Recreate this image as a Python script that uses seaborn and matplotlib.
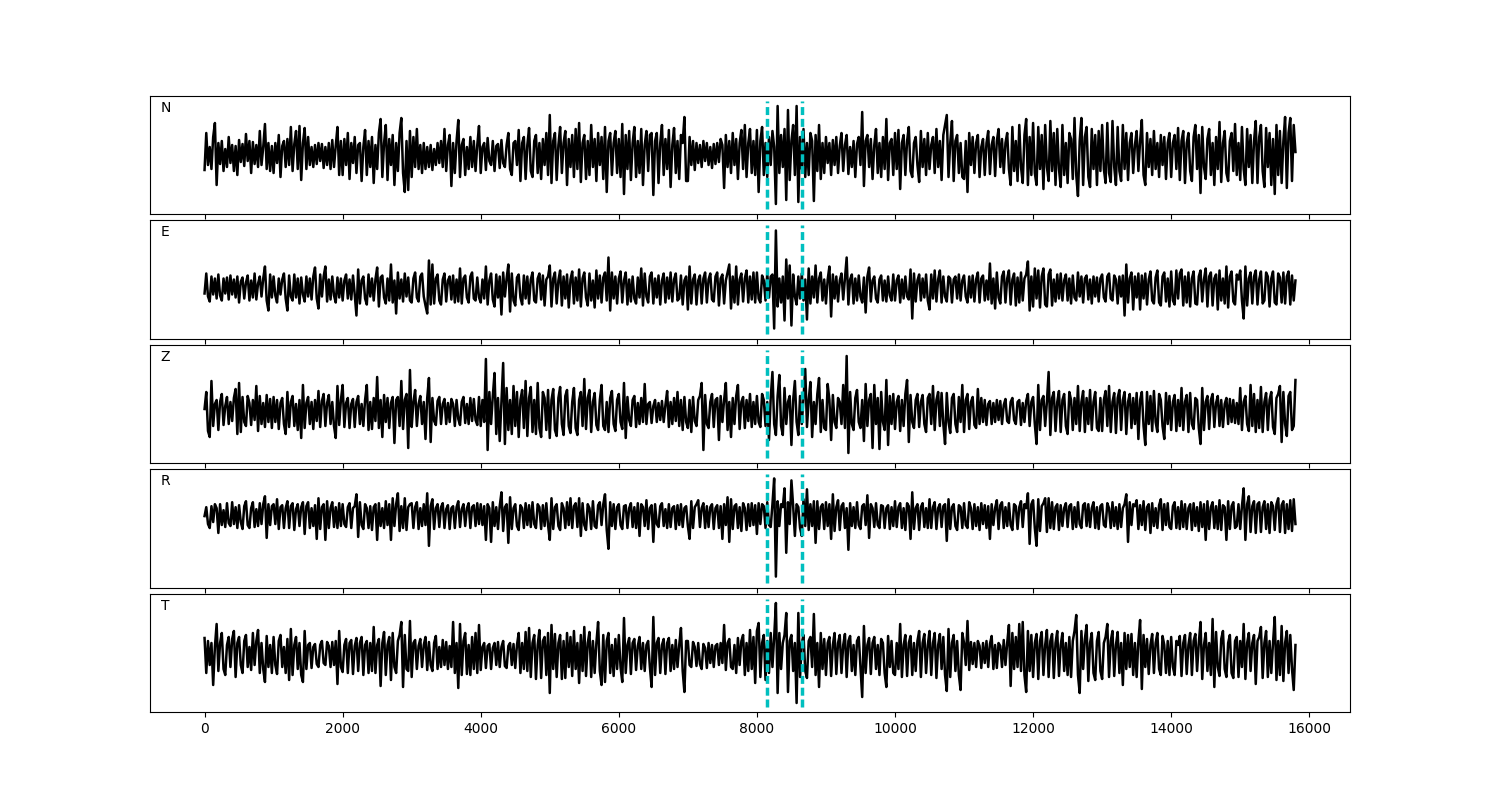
import numpy as np
import pandas as pd
import matplotlib
matplotlib.use("Agg")
import matplotlib.pyplot as plt
import seaborn as sns

# ---- data (amplitudes, one value every 25 samples) ----
sample_step = 25
channels = ["N", "E", "Z", "R", "T"]
picks = [8145, 8652]
xticks = [0, 2000, 4000, 6000, 8000, 10000, 12000, 14000, 16000]

n_trace = (
    [-15, 22, -10, 8, -14, 18, 32, -30, 12, -9, 14, -16, 6, -12, 18, -8, 10, -16, 9, -20, 15, -7, 11, -11, 21, -6, 14, -18, 13, -9, 10, -12, 24, -10, 8, 31, -14, 12, -16, 9]
    + [-18, 12, -8, 20, -22, 9, 14, -12, 16, -10, 28, -16, 11, 24, -14, 29, -25, 12, 27, -14, 18, -10, 8, -12, 10, -9, 12, -6, 11, -13, 8, -10, 12, -14, 15, -12, 9, 28, -20, 14]
    + [-20, 16, -10, 22, -24, 12, -8, 18, -18, 10, 12, -26, 8, 25, -20, 14, -12, 18, -28, 10, -14, 22, 36, -22, 12, 30, -25, 16, -10, 20, -30, 12, -16, 22, 37, -18, -37, 14, -35, 24]
    + [-22, 18, -12, 26, -14, 10, -18, 12, -14, 8, -12, 10, -15, 6, -10, 12, -8, 14, -12, 26, -16, 10, 20, -31, 12, -18, 14, 35, -22, 10, 16, -20, 8, -14, 18, -12, 14, -16, 10, 29]
    + [-18, 8, 12, -15, 17, -6, -10, 14, -16, 9, 11, -13, 15, -8, -12, 10, 22, -14, -20, 12, 14, -10, 25, -26, 12, 18, -24, 10, 27, -16, -22, 14, 20, -18, 12, -24, 16, -10, 22, -20]
    + [40, -28, 14, 22, -25, 10, 28, -18, 12, 24, -30, 16, -12, 20, -22, 26, -14, 32, -27, 12, 20, -24, 14, -20, 30, -12, 16, -26, 22, -10, 18, -24, 28, -37, 14, 22, -20, 12, 24, -18]
    + [16, -22, 31, -39, 20, -14, 24, -25, 12, 28, -22, 14, -18, 26, -30, 10, 24, -16, 20, 22, -40, 14, 22, -28, 12, 30, -20, 16, -14, 25, -32, 10, 27, -18, 14, -24, 20, 12, 38, -26]
    + [-26, 18, -10, 14, -15, 12, -8, 10, -12, 14, -6, 12, -10, 8, -13, 11, -9, 12, -7, 16, 10, -33, 20, -12, 14, -18, 22, -10, 16, -24, 12, 25, -14, 30, -22, 12, 26, -18, 14, -20]
    + [25, -37, 14, 28, -20, 12, -22, 18, -10, 24, 8, -49, 49, -18, 20, -12, 26, -45, 45, -25, 14, 30, -20, 49, -47, 18, -14, 26, -22, 12, -20, 22, 14, -46, 20, -16, 30, -24, 12, -18]
    + [18, -8, 12, -20, 15, -10, 18, -18, 9, 22, -16, 10, 20, -19, 8, -12, 14, -22, 11, 18, -10, 43, -31, 14, 20, -12, 16, -24, 10, 26, -18, 12, -22, 18, -14, 36, -25, 12, 16, -20]
    + [22, -14, 25, -34, 12, 20, -20, 14, 28, -16, -22, 12, 18, -10, -27, 24, -12, 16, -20, 22, -14, 10, 18, -18, 26, -12, 14, -25, 20, 30, 40, -22, 12, 34, -26, 14, 20, -18, 12, -22]
    + [-24, 14, -37, 22, -10, 18, -18, 12, 20, -22, 8, 16, -20, 12, 24, -19, 10, 18, -21, 14, 26, -12, 16, -18, 12, 22, -14, -30, 28, -16, 14, -26, 30, -12, -28, 20, 36, -30, 18, -20]
    + [32, -18, -30, 28, -14, 20, -34, 30, -12, -26, 34, -16, 22, -30, 26, -14, -32, 30, -20, 12, -28, 22, 16, -24, 37, -20, -41, 14, 37, -30, 18, 28, -22, -32, 26, -14, 20, -30, 24, -16]
    + [30, -14, -28, 32, -18, -27, 34, -12, -30, 28, -16, -26, 30, -14, 22, -25, 12, 22, -18, 10, 24, -16, 14, 35, -20, -30, 22, -12, 16, -20, 24, -14, 12, -22, 20, -10, 18, -24, 12, 22]
    + [-22, 12, 20, -14, 27, -25, 14, 24, -28, 12, 22, -16, -26, 18, 30, -14, 20, -38, 28, -12, -24, 16, 26, -20, 12, -30, 18, -14, 33, -27, 12, 24, -18, -26, 14, 22, -16, 31, -20, 12]
    + [-25, 28, -14, -30, 26, -12, 20, -28, 14, 34, -28, 18, 30, -16, -32, 27, -12, 22, -30, 16, -39, 30, -20, 24, -28, 14, 38, -33, 22, 37, -26, 30, 3]
)

e_trace = (
    [-5, 15, -8, -13, 12, -6, 10, -10, 14, -7, -12, 10, -5, 11, -11, 13, -6, 9, -9, 12, -14, 7, 11, -10, 6, 13, -12, 8, -9, 15, -11, 5, 12, -8, 10, 22, -12, -22, 14, -9]
    + [12, -7, -14, 10, -6, 9, 15, -10, -22, 13, -8, -12, 14, -9, 10, -15, 11, -6, -13, 12, -8, 10, -11, 12, 21, -10, -20, 14, -8, 12, 22, -13, 9, -11, 12, -7, -14, 11, -9, 10]
    + [-12, 8, 14, -10, 9, -11, 13, -6, -27, 19, -15, 8, 12, -10, -16, 14, -8, 10, -12, 9, 21, -18, 11, 13, -9, -15, 10, -12, 24, -14, 8, -25, 16, -10, 9, -13, 15, -8, 11, -12]
    + [-14, 10, 16, -9, -13, 12, 15, -8, -17, -25, 28, -16, 24, -15, 10, 14, -12, -16, 9, 15, -13, 8, 12, -11, 13, -14, 9, -13, 20, -15, 10, 13, -9, -14, 12, 16, -10, -12, 11, -9]
    + [-14, 9, -10, 22, -16, 8, 15, -11, -18, 14, -9, 12, -26, 16, -8, 10, 24, -23, 15, -12, -17, 11, 14, -9, -16, 13, -10, 12, -15, 9, 16, -12, -14, 10, 15, -11, 13, -17, 9, 12]
    + [23, -18, 10, 16, -15, 8, 18, -17, 12, -10, 14, -19, 9, 17, -15, 11, -12, 19, -18, 10, 16, -9, -17, 15, -12, 8, -19, 18, -10, 13, -14, 11, 16, -12, 31, -22, 16, -10, 12, -15]
    + [10, 17, -14, 8, 16, -16, 9, -13, 12, -10, -15, 11, -9, 20, -17, 15, -8, -14, 12, 16, -15, 10, -9, 13, -16, 8, 15, -14, 11, -10, 16, -13, 9, 15, -12, -10, 13, -16, 8, 12]
    + [-21, 22, -15, 9, 14, -16, 8, 13, -15, 10, 16, -14, 9, 15, -11, -13, 12, 16, -17, 10, 14, -15, 8, 16, 24, -20, 12, -14, 22, -16, 9, 15, -13, 10, 18, -14, 12, -11, 16, -14]
    + [16, -10, -14, 13, 8, -12, 15, -9, 12, 14, -40, 58, -18, 10, -14, 12, -32, 29, -10, 23, -37, 14, -8, -16, 12, -10, 15, -12, 9, -31, 20, -15, 12, -9, 23, -14, 10, 16, -12, 9]
    + [-15, 9, 22, -28, 14, -10, 12, -13, 8, 15, -11, 10, 31, -16, 9, 14, -15, 10, -12, 13, -8, -14, 11, -24, 12, 21, -13, 8, 12, -10, -14, 9, 13, -12, 8, -13, 12, -7, -12, 14]
    + [-12, 8, 13, -14, 9, -10, 12, -8, -11, 19, -30, 15, -13, 8, 14, -12, 10, -9, 14, -12, -21, 14, -10, 18, -13, 9, 18, -14, 12, -8, -13, 12, 10, -14, 9, 12, -10, 14, -12, 8]
    + [13, -8, -14, 12, -9, 13, -13, 9, 16, -14, 10, 13, -12, 8, -11, 25, -15, 10, -20, 16, -9, -15, 12, 17, -14, 10, 18, -16, 9, 15, -17, 11, -14, 16, -12, 10, 14, 27, -22, 12]
    + [-18, 20, -10, 18, -19, 12, 20, -16, -18, 14, 19, -17, 9, -13, 14, -10, 15, -12, 8, 14, -12, 10, -15, 13, -9, -12, 16, -8, 12, -14, 10, 13, -11, 9, -15, 12, -8, 11, -13, 10]
    + [14, -9, -13, 12, 15, -10, -12, 13, 9, -15, 12, -8, 13, -27, 24, -14, 10, 16, -21, 12, -9, 15, -21, 13, -10, 15, -16, 9, 17, -12, -15, 11, 18, -14, -17, 12, 16, -13, 10, -18]
    + [17, -12, -16, 18, -10, 15, 19, -17, 12, -14, 16, -18, 10, 17, -15, -16, 12, 18, -13, 9, 20, -18, 12, 16, -17, 10, 14, -21, 18, -12, 10, -15, 22, -19, 12, 17, -13, -16, 14, 9]
    + [18, -12, -30, 22, -17, 10, 16, -15, 12, 18, -16, 9, 17, -15, -12, 16, 12, -18, 10, 17, -14, -16, 15, 11, -14, 16, -15, 12, 17, -16, 13, -12, 8]
)

z_trace = (
    [3, 20, -19, -25, 31, -14, 8, 12, -18, 10, 18, -13, 6, 15, -12, 10, -9, 14, 23, -22, 29, -20, 15, -10, -14, 16, 9, -13, 12, -8, 26, -19, 16, -12, 9, -15, 17, -10, 13, -16]
    + [15, -10, 12, -17, 9, 14, -12, -22, 20, -15, 10, 16, -14, 8, -18, 12, -26, 27, -16, 9, 15, -12, 10, -17, 12, -9, 21, -15, 11, 18, -14, 9, 17, -12, 10, -14, -26, 26, -13, 12]
    + [27, -15, 9, 14, -16, 8, 13, -15, 10, 16, -12, 8, -14, 12, 27, -18, 10, -17, 14, -9, 35, -16, 12, -25, 17, -10, 14, -16, 9, 15, -31, 12, 15, -14, 31, -17, 12, 18, -36, 42]
    + [-15, 10, 22, -14, 8, 16, -12, 10, -27, 14, 34, -30, 14, -9, -13, 11, 15, -12, 8, 13, -12, 9, -10, 13, 8, -14, 12, -7, -13, 10, 15, -11, 8, -12, 14, -9, 13, -8, -13, 15]
    + [-14, 12, -10, 53, -38, 20, -12, 16, 39, -22, 14, -29, 10, 49, -32, 24, -18, 12, -22, 26, -14, 20, -25, 12, 22, -16, 31, -24, 14, 25, -20, 12, -22, 29, -16, -25, 20, 14, -18, 22]
    + [-26, 12, 23, -18, -24, 14, 25, -12, -23, 16, 22, -14, -21, 10, 24, -16, -23, 12, 20, -14, 33, -17, 14, 22, -20, 10, 19, -13, -18, 12, 27, -14, -18, 10, -20, 14, 21, -12, -19, 12]
    + [18, -10, -17, 29, -26, 15, -8, -14, 12, 16, -15, 9, -12, 14, -10, 28, -12, 8, 10, -11, 6, 12, -10, 9, -8, 11, -10, 7, 21, -15, 10, -12, 14, -9, 20, -14, 12, -18, 15, -10]
    + [-16, 12, -20, 15, -9, -14, 12, 16, 29, -38, 17, -12, -16, 10, 18, -15, 12, 14, -28, 16, -10, 12, 29, -18, 10, -25, 14, -12, 16, 27, -17, 10, 15, -16, 12, -9, 18, -15, 10, -12]
    + [16, -10, -15, 18, 12, -14, 10, -28, 14, 40, -12, -23, 16, 37, -14, -23, 24, -12, 10, 16, -33, 12, 31, -10, -23, 16, -12, 14, 43, -15, 12, 30, -25, 10, -12, 18, 34, -20, 12, -16]
    + [-18, 28, 12, -28, 17, -10, -16, 14, 10, -12, 27, -16, 56, -41, 20, -12, -18, 14, 22, -10, -16, 12, -29, 28, -14, 12, 18, -36, 27, -12, 14, -37, 20, -10, -18, 32, -33, 16, -12, 18]
    + [-17, 10, 16, -19, 12, -14, 18, 32, -30, 17, -10, -16, 12, 18, -15, 10, 17, -12, -20, 14, 18, -12, 26, -18, 12, 20, -14, 19, -12, -32, 19, -10, -21, 14, 18, -12, -20, 15, -10, 27]
    + [-20, 12, 18, -17, 10, 15, -13, -16, 23, -12, 14, -10, 12, -13, 8, 11, -12, 9, -10, 12, -8, 11, -12, 7, 13, -9, -11, 10, 14, -8, -12, 10, 12, -13, 9, -10, 11, 18, -14, 10]
    + [15, -12, -32, 27, -18, 12, 16, -14, 10, 40, -23, 14, 20, -19, 10, 21, -20, 12, 18, -14, -22, 20, 12, -18, 14, -12, 26, -19, 10, 21, -20, 14, -12, 22, -18, 10, 20, -16, -19, 14]
    + [-19, 12, 21, -14, 26, -20, 10, 19, -21, 14, 22, -18, 12, 20, -22, 10, 18, -16, 14, -12, 19, -27, 12, 20, -14, -33, 20, -12, 16, -19, 21, -10, -20, 18, 12, -14, -27, 19, -12, 16]
    + [-18, 10, 17, -19, 12, -14, 24, -18, 10, 17, -20, 19, -12, -17, 14, 12, -16, -32, 24, -18, 10, 16, -17, 12, 18, -15, 9, 16, -14, 12, -15, 8, 14, -12, 13, -10, 12, -11, 9, -12]
    + [24, -18, 10, 16, -12, -19, 27, -14, 18, -20, 12, -16, 25, -20, 10, 19, -18, 12, 20, -15, -22, 14, 18, 26, -30, 20, -12, -24, 16, 20, -18, -14, 32]
)

r_trace = (
    [0, 9, -8, -12, 10, -6, 12, 8, -17, 12, -9, 6, -11, 13, -7, -10, 14, -8, 9, -12, 11, -6, -13, 10, 15, -9, -12, 8, 14, -11, 7, -10, 13, -8, 12, 20, -22, 12, -9, 10]
    + [12, -8, 17, -13, 9, 11, -12, 8, 15, -12, 10, 13, -14, 7, 12, -10, 9, 14, -18, 10, 14, -12, 8, -10, 11, -23, 18, -13, 9, 12, -24, 15, -12, 8, 14, -11, 9, -12, 13, -10]
    + [12, -8, -11, 9, 13, -12, 8, 10, 22, -21, 14, -9, -13, 12, 8, -12, 10, -14, 9, 12, -24, 13, -10, 8, -12, 15, -9, 12, -24, 18, -10, 12, 23, -15, 10, -12, 18, -14, 9, 12]
    + [13, -12, 9, 14, -13, 8, -10, 12, -9, 23, -30, 10, 17, -13, 8, 12, -11, 9, 13, -12, 7, 11, -13, 8, 10, -12, 9, 15, -11, 7, 12, -10, 8, 13, -12, 9, 11, -10, 13, -8]
    + [12, -9, 10, -24, 12, 8, -26, 14, -10, 9, -13, 10, 24, -15, 9, 12, -27, 19, -13, 8, 12, -10, -14, 11, 8, -12, 13, -9, 11, -11, 14, -8, -12, 12, 9, -13, 11, -10, 13, -9]
    + [-24, 18, -13, 9, 12, -10, -14, 13, 8, -12, 14, -9, 18, -12, 10, 13, -11, 18, -20, 13, -9, -14, 12, 8, -13, 15, -10, -12, 11, 14, -9, 12, 22, -14, -33, 14, -10, 12, -13, 9]
    + [12, -9, -13, 10, 11, -12, 8, 13, -11, 9, -12, 13, -20, 12, 9, -10, 16, -13, 8, 11, -26, 12, -8, -11, 10, 13, -10, 7, -12, 12, -11, 8, 10, -13, 11, -9, 12, -11, 8, 10]
    + [-10, -23, 15, -12, 9, 12, 16, -11, 8, 13, -12, 10, -11, 9, 12, -13, 8, 11, -12, 10, -23, 12, -9, 19, -26, 17, -13, 10, 12, -12, 9, -15, 13, 8, -14, 12, -10, 13, -9, 11]
    + [-18, 13, -8, 12, 10, -12, 14, -9, -11, 12, 38, -61, 15, -10, 12, 9, 28, -37, 14, -8, 36, 10, -20, 12, 9, -12, -20, 17, -10, 27, -14, 12, -10, 15, -27, 15, -13, 9, 12, -13]
    + [14, -10, 12, -23, 22, -15, 9, 16, -14, 10, 13, -12, 8, -34, 13, -10, 9, -12, 14, -9, -13, 10, 12, -9, 21, -22, 12, 8, -11, 13, -9, -12, 11, 10, -12, 8, 11, -13, 9, -10]
    + [15, -11, 9, 13, -12, 8, -14, 13, 10, -23, 24, -13, 8, 12, -14, 9, 13, -11, 8, -12, 17, -12, 9, 14, -13, 8, 12, -11, 10, 12, -25, 17, -13, 9, 12, -10, -14, 11, 9, -12]
    + [13, -9, -12, 14, 8, -13, 12, -10, 9, -14, 13, -8, 11, -12, 10, -23, 12, -9, 8, 16, -13, 11, 14, -12, 9, -10, 13, -9, -14, 12, 10, -13, 9, 15, -11, 12, 8, 23, -28, 12]
    + [16, -12, -30, 17, -15, 10, 13, 18, -16, 18, -12, 14, -13, 9, 12, -14, 11, -10, 8, 13, -11, 10, 12, -13, 9, -11, 14, -8, -12, 11, 13, -10, 12, -11, 8, 14, -12, 9, -13, 10]
    + [12, -9, -11, 13, 8, -12, 14, -10, 9, -13, 12, -11, 8, 12, 22, -26, 14, -9, 12, 10, 16, -13, 11, -9, 15, -14, 9, 12, -17, 13, -10, 8, -12, 11, 17, -14, 12, -9, 13, -11]
    + [-13, 10, 14, -12, 9, -13, 15, -11, 12, -13, 8, 12, -14, 13, -10, 9, -15, 14, -11, 12, -24, 15, -13, 9, 14, -12, 10, -13, 16, -14, 11, 9, -24, 15, -13, 10, 14, -12, -10, 12]
    + [-13, 10, 28, -24, 12, 20, -16, 10, 15, -17, 12, 14, -16, 9, 15, -13, 12, -17, 14, 10, -14, 12, 18, -16, 11, 15, -17, 12, -13, 16, -15, 17, -8]
)

t_trace = (
    [17, -18, 14, -10, 12, -30, 8, 31, -16, 12, 22, -14, -20, 10, 18, -12, 16, 24, -22, 12, 18, -10, -18, 14, 20, -12, 8, -15, 22, -10, 14, 25, -18, 12, -14, -27, 19, -12, 10, -18]
    + [18, -10, -19, 14, 20, -12, 8, -18, 16, -25, 26, -20, 10, 18, -14, 12, -20, -27, 24, -14, 10, 12, -13, 8, 11, -9, -12, 10, 14, -8, -10, 13, 9, -12, 13, -10, 14, -29, 24, -12]
    + [-17, 10, 16, -18, 12, 15, -19, 9, 17, -16, 12, 18, -20, 10, 14, -18, 12, -16, 28, -18, 10, 16, -31, 12, 23, -20, 10, 18, -25, 22, -12, -18, 14, 20, 33, -32, 20, -14, -16, 34]
    + [-22, 12, 15, -14, 9, 16, -12, 10, 18, -15, 13, -10, -16, 12, 19, -14, 8, -12, 15, -10, 13, -14, 9, -12, 33, -18, 12, -33, 31, -20, 14, 22, -19, 10, -20, 18, -14, 22, -18, 30]
    + [-15, 8, 12, -13, 9, 11, -14, 7, 12, -10, 13, -12, 8, 14, -11, -13, 9, 12, -10, 11, -13, 10, 22, -18, 12, -14, 23, -16, 27, -22, 12, 20, -24, 10, 25, -23, 14, 18, -20, 22]
    + [-38, 30, -14, 21, -22, 12, 20, -24, 14, -23, 22, -12, 18, -21, 24, -14, 12, -28, 20, -16, 28, -21, 12, 23, -22, 14, -18, 12, 33, -16, -30, 20, -27, 14, 22, -18, 10, -21, 16, -14]
    + [20, -12, -27, 37, -18, 10, 17, -19, 12, 16, -15, 9, 18, -14, 12, -16, 10, 14, -12, -32, 38, -20, 12, 17, -18, 10, 16, -19, 12, 17, -16, 10, -14, 15, -12, 10, 27, -16, -37, 14]
    + [14, -10, -12, 13, 8, -11, 12, -9, -14, 11, 7, -13, 12, -8, 10, -12, 9, 11, -10, 12, -8, 30, -15, 12, 16, -12, -14, 10, -18, 17, -10, 14, 20, -20, 12, -16, 25, -14, 18, -28]
    + [24, 32, -22, 12, 20, -25, 14, -18, 22, -12, 18, 52, -38, 22, -14, 12, 20, 42, -37, 14, 20, -16, 12, -48, 42, -22, 12, 20, -16, -23, 14, 18, -12, 41, -20, 12, -32, 22, -14, 16]
    + [-20, 12, 18, -21, 10, 22, -19, 12, 20, -18, 10, 21, -22, 14, 19, -16, 10, -20, 14, 18, -12, -42, 29, -18, 10, 17, -19, 12, 18, -14, 10, -20, 16, 12, -18, -32, 19, -12, 14, -18]
    + [-20, 12, -14, 31, -22, 10, 20, -21, 12, 19, -20, 12, -16, 14, 24, -22, 12, 21, -18, 10, 24, -20, 12, 22, -23, 10, 21, -14, 18, -20, -36, 26, -22, 12, 20, -16, 14, -20, -35, 22]
    + [12, -10, 34, -15, 13, -9, 12, -12, 14, 9, -13, 12, -8, 14, -12, 11, 19, -14, 10, -13, 12, 9, -12, 15, -10, 12, 30, -31, 22, -14, 18, -12, 31, -16, 33, -20, -37, 24, -16, 20]
    + [-22, 12, 21, -24, 14, 23, -20, 10, 25, -22, 14, 21, -23, 12, 24, -21, 10, 22, -16, 12, -20, 18, -22, 14, 24, 40, -20, -38, 24, -14, 16, 30, -26, 12, 22, -18, -25, 14, 23, -16]
    + [-24, 12, 18, 31, -22, 14, 24, -21, 10, 23, -18, 12, -30, 22, -14, 20, -12, 21, -20, 12, -22, 14, 35, -34, 20, -12, 16, -19, 10, 21, -18, 12, 22, -14, -20, 19, 10, -18, 14, -20]
    + [18, -12, -20, 14, 10, 19, -21, 12, 20, -19, 10, 22, -20, 14, 21, -16, 12, 33, -24, 10, 22, -16, 12, -20, 36, -32, 23, -12, -21, 16, 24, -14, -22, 12, 20, -18, -23, 14, 18, -22]
    + [14, -12, 31, -24, 12, 22, -16, 12, 20, -29, 14, 18, 28, -23, 12, 24, -22, 14, -18, 12, 38, -25, 14, -20, 29, -26, 12, 24, -18, 20, -14, -35, 10]
)

traces = [n_trace, e_trace, z_trace, r_trace, t_trace]
# vertical view window of each panel (same units as the traces)
y_windows = [(-59, 59), (-50, 68), (-51, 67), (-72, 47), (-57, 61)]

# ---- figure ----
fig, axes = plt.subplots(5, 1, figsize=(15, 8), dpi=100, sharex=True)
fig.subplots_adjust(left=0.1, right=0.9, top=0.88, bottom=0.11, hspace=0.055)

for ax, name, vals, ylim in zip(axes, channels, traces, y_windows):
    df = pd.DataFrame({"sample": np.arange(len(vals)) * sample_step, "amp": vals})
    sns.lineplot(data=df, x="sample", y="amp", ax=ax, color="black",
                 linewidth=1.8, estimator=None, sort=False)
    for p in picks:
        ax.axvline(p, ymin=0.04, ymax=0.96, color="c", linewidth=2.5,
                   linestyle=(0, (2.3, 1.1)))
    ax.set_ylim(*ylim)
    ax.set_yticks([])
    ax.set_xlabel("")
    ax.set_ylabel("")
    ax.text(0.009, 0.9, name, transform=ax.transAxes, ha="left", va="center",
            fontsize=10)

axes[-1].set_xlim(-790, 16590)
axes[-1].set_xticks(xticks)
axes[-1].set_xticklabels([str(t) for t in xticks])

fig.savefig("out.png", dpi=100)
